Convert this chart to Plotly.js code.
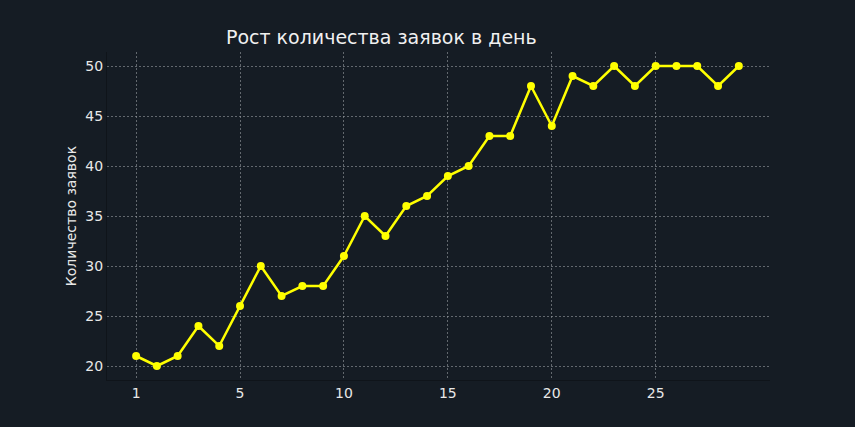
<!DOCTYPE html>
<html><head><meta charset="utf-8">
<script src="https://cdn.plot.ly/plotly-3.0.1.min.js"></script>
<style>html,body{margin:0;padding:0;background:#151c24;}</style>
</head><body>
<div id="chart" style="width:855px;height:427px;"></div>
<script>
const days = [0,1,2,3,4,5,6,7,8,9,10,11,12,13,14,15,16,17,18,19,20,21,22,23,24,25,26,27,28,29];
const requests = [21,20,21,24,22,26,30,27,28,28,31,35,33,36,37,39,40,43,43,48,44,49,48,50,48,50,50,50,48,50];
const tickVals = [0,5,10,15,20,25];
const tickText = ['1','5','10','15','20','25'];
const yTicks = [20,25,30,35,40,45,50];

const font = 'DejaVu Sans, sans-serif';
const grid = 'rgba(150,155,160,0.6)';
Plotly.newPlot('chart', [{
  x: days, y: requests, type: 'scatter', mode: 'lines+markers',
  line: {color: '#ffff00', width: 2.5},
  marker: {color: '#ffff00', size: 8},
  hoverinfo: 'skip'
}], {
  width: 855, height: 427,
  paper_bgcolor: '#151c24', plot_bgcolor: '#151c24',
  margin: {l: 107, r: 85, t: 52, b: 47},
  showlegend: false,
  title: {text: 'Рост количества заявок в день', x: 0.446, xanchor: 'center', xref: 'container', y: 0.912, yanchor: 'middle', font: {family: font, size: 19, color: '#f0f0f0'}},
  xaxis: {range: [-1.4, 30.5], tickvals: tickVals, ticktext: tickText, showgrid: true, gridcolor: grid, griddash: '2px,2px', gridwidth: 1, zeroline: false, showline: true, linecolor: '#0f141a', linewidth: 1, ticks: '', tickfont: {family: font, size: 14, color: '#e8e8e8'}},
  yaxis: {range: [18.6, 51.4], tickvals: yTicks, showgrid: true, gridcolor: grid, griddash: '2px,2px', gridwidth: 1, zeroline: false, showline: true, linecolor: '#0f141a', linewidth: 1, ticks: '', tickfont: {family: font, size: 14, color: '#e8e8e8'},
    title: {text: 'Количество заявок', font: {family: font, size: 14, color: '#e8e8e8'}, standoff: 5}}
}, {staticPlot: true});
</script>
</body></html>
